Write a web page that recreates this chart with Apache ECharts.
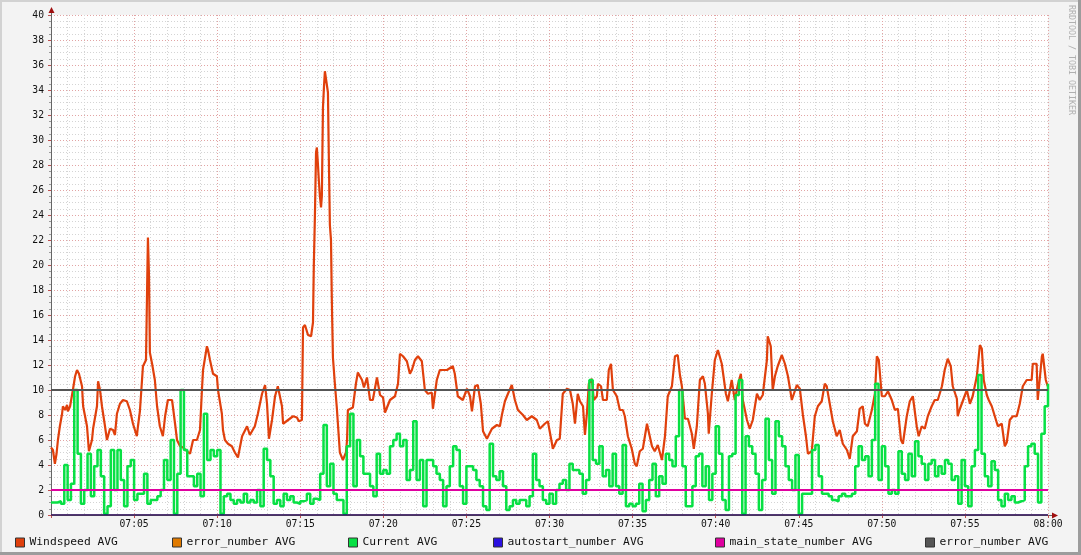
<!DOCTYPE html>
<html>
<head>
<meta charset="utf-8">
<script src="https://cdn.jsdelivr.net/npm/echarts@6/dist/echarts.min.js"></script>
<style>
html,body{margin:0;padding:0;background:#f3f3f3;}
#chart{width:1081px;height:555px;}
</style>
</head>
<body>
<div id="chart"></div>
<script>
// ---- data ----
// Windspeed AVG: seconds after 07:00:00, value
const windSec = [0,7,14,20,25,32,40,43,51,58,61,69,76,79,87,94,101,112,116,130,137,148,152,159,166,170,177,184,195,202,213,224,231,238,249,260,274,285,296,310,314,321,332,343,347,350,354,357,365,375,383,393,404,412,422,437,440,448,455,466,477,491,502,513,527,538,545,549,563,567,574,585,599,603,617,621,628,639,653,664,675,690,708,718,736,747,762,773,780,787,798,809,819,834,838,856,874,888,895,906,910,917,928,939,946,949,953,957,960,964,967,971,975,978,982,986,989,996,1000,1004,1007,1011,1014,1018,1025,1032,1043,1054,1065,1069,1072,1090,1101,1108,1123,1130,1141,1152,1162,1177,1188,1199,1206,1224,1242,1253,1260,1271,1285,1296,1303,1314,1325,1339,1350,1361,1375,1379,1393,1404,1430,1451,1458,1469,1487,1502,1513,1520,1531,1541,1552,1560,1574,1592,1610,1621,1628,1639,1650,1664,1675,1686,1704,1718,1736,1754,1765,1783,1794,1809,1812,1827,1837,1848,1863,1874,1884,1892,1902,1910,1921,1928,1935,1942,1953,1960,1971,1975,1986,1993,2007,2014,2022,2029,2043,2054,2065,2072,2083,2097,2108,2115,2126,2137,2152,2162,2170,2180,2191,2206,2217,2227,2242,2253,2263,2271,2278,2289,2300,2314,2321,2332,2343,2354,2361,2372,2375,2386,2397,2408,2422,2437,2444,2458,2469,2480,2491,2498,2513,2523,2534,2549,2559,2570,2585,2588,2599,2606,2614,2624,2639,2650,2661,2675,2682,2693,2704,2715,2726,2733,2747,2758,2769,2783,2794,2801,2812,2823,2837,2848,2859,2874,2884,2895,2910,2920,2931,2939,2949,2964,2975,2982,2989,3000,3011,3022,3036,3047,3058,3069,3076,3090,3101,3112,3126,3133,3144,3155,3166,3180,3191,3202,3217,3227,3238,3249,3256,3271,3274,3282,3292,3307,3318,3328,3343,3354,3361,3368,3379,3386,3397,3408,3419,3433,3444,3451,3462,3473,3487,3498,3509,3523,3541,3545,3559,3563,3578,3581,3592,3599];
const windVal = [5.4,5.2,4.1,4.9,6.0,7.1,8.1,8.7,8.4,8.8,8.3,8.7,8.8,10.0,11.1,11.6,11.3,10.3,8.7,7.1,5.1,6.0,6.9,6.9,8.7,10.7,10.0,8.7,7.1,6.0,6.9,6.8,6.4,8.1,8.9,9.2,9.1,8.4,7.3,6.3,7.1,8.3,11.9,12.4,18.0,22.2,19.0,13.0,12.1,10.8,8.7,7.1,6.3,7.9,9.2,9.2,8.7,7.3,6.0,5.5,5.4,5.1,4.9,6.0,6.0,6.8,10.0,11.6,13.5,13.2,12.4,11.3,11.1,10.0,8.1,6.8,6.0,5.7,5.5,5.0,4.6,6.3,7.1,6.4,7.1,8.1,9.7,10.4,8.9,6.1,7.6,9.5,10.3,8.7,7.3,7.6,7.9,7.8,7.5,7.6,15.0,15.2,14.4,14.3,15.4,20.0,24.0,29.0,29.4,28.0,26.8,25.5,24.6,25.5,32.6,34.4,35.5,35.4,33.8,27.4,23.2,22.0,17.2,12.6,10.5,8.6,5.0,4.4,5.0,6.0,8.4,8.6,10.5,11.4,10.8,10.2,11.0,9.2,9.2,11.0,9.6,9.4,8.2,9.2,9.5,10.5,12.9,12.7,12.3,11.3,11.6,12.4,12.7,12.3,10.0,9.7,9.8,8.5,10.8,11.6,11.6,11.9,11.3,9.5,9.2,10.1,9.5,8.3,10.3,10.4,8.9,6.7,6.1,6.9,7.2,7.1,8.0,9.1,9.7,10.4,9.2,8.4,8.0,7.6,7.9,7.6,6.9,7.3,7.5,5.7,5.3,6.0,6.1,9.7,10.1,10.0,8.9,7.3,9.7,9.1,8.7,6.4,8.1,10.5,10.9,9.2,9.5,10.5,10.3,9.2,9.2,11.6,12.1,10.0,9.5,8.4,8.4,7.9,6.3,5.3,4.1,3.9,5.1,5.3,7.3,6.3,5.5,5.1,5.6,4.4,6.3,9.5,10.3,12.7,12.8,11.2,10.3,7.7,7.7,6.5,5.3,7.1,10.8,11.1,10.5,8.1,6.5,9.7,12.4,13.2,12.1,9.7,9.1,10.8,9.2,10.4,11.3,9.2,7.6,6.9,7.6,9.7,9.2,9.6,12.4,14.3,13.5,10.0,11.1,11.9,12.8,12.1,11.1,9.2,9.1,10.4,10.1,8.0,6.3,4.9,5.1,7.9,8.7,9.1,10.5,10.3,8.9,7.5,6.3,6.8,5.7,5.2,4.5,6.3,6.7,8.5,8.7,7.3,7.1,8.4,9.7,12.7,12.4,9.5,9.5,9.9,9.2,8.4,8.5,6.0,5.7,7.9,9.1,9.5,7.1,6.3,7.1,6.9,7.9,8.7,9.2,9.2,10.3,11.6,12.5,11.9,10.3,9.3,7.9,8.5,9.1,10.0,8.9,9.5,11.1,13.6,13.3,10.8,9.6,9.2,8.7,7.9,7.1,7.3,5.5,5.8,7.6,7.9,7.9,8.9,10.3,10.8,10.8,12.1,12.1,9.2,12.7,12.9,10.8,10.3];
// Current AVG: one value every currentStepSec seconds from 07:00:00
const currentStepSec = 12;
const currentVal = [1.0,1.0,1.1,0.9,4.0,1.2,2.5,10.0,4.9,0.9,2.0,4.9,1.5,3.9,5.2,3.1,0.1,0.7,5.2,2.0,5.2,2.8,0.7,3.9,4.4,1.2,1.7,1.7,3.3,0.9,1.2,1.2,1.5,2.0,4.4,2.8,6.0,0.1,3.3,10.0,5.2,3.1,3.1,2.3,3.3,1.5,8.1,4.4,5.2,4.7,5.2,0.1,1.5,1.7,1.2,0.9,1.2,1.0,1.7,1.0,1.2,1.0,2.0,0.7,5.3,4.4,3.1,0.9,1.2,0.7,1.7,1.2,1.5,1.0,0.9,1.1,1.2,1.7,0.9,1.3,1.2,3.3,7.2,2.3,4.1,1.7,1.2,1.2,0.1,5.5,8.1,2.3,6.0,4.7,3.3,3.3,2.3,1.5,4.9,3.3,3.6,3.3,5.5,6.0,6.5,5.5,6.0,2.8,3.6,7.5,2.8,4.4,0.7,4.4,4.4,3.9,3.3,2.8,0.7,2.3,3.9,5.5,5.2,2.3,0.9,3.9,3.9,3.6,2.8,2.3,0.7,0.4,5.7,3.1,2.8,3.5,2.3,0.4,0.7,1.2,0.9,1.2,1.2,0.7,1.5,4.9,2.8,2.3,1.2,0.9,1.7,0.9,2.0,2.5,2.8,2.0,4.1,3.6,3.6,3.3,1.7,2.8,10.8,4.4,4.1,5.5,3.1,3.6,2.3,4.9,2.3,1.7,5.6,0.7,0.9,0.7,0.9,2.5,0.3,1.2,2.8,4.1,1.5,3.1,2.5,4.9,4.4,3.9,6.3,10.0,3.9,0.7,0.7,2.3,4.7,4.9,2.3,3.9,1.2,3.3,7.1,4.9,1.2,0.4,4.7,4.9,9.6,10.8,0.1,6.3,5.5,4.9,3.3,0.4,2.8,7.7,4.4,1.7,7.5,6.3,5.5,3.9,2.8,2.0,4.8,0.1,1.7,1.7,1.7,5.2,5.6,3.1,1.7,1.7,1.5,1.2,1.1,1.5,1.7,1.5,1.5,1.7,3.9,5.5,4.4,4.7,3.1,6.0,10.5,2.8,5.5,3.9,1.7,2.0,1.7,5.1,3.3,2.8,4.9,3.1,5.9,4.7,4.1,2.8,4.1,4.4,3.1,3.9,3.3,4.4,4.1,2.8,3.1,0.9,4.4,2.3,0.7,3.9,5.2,11.2,4.9,3.1,2.3,4.3,3.6,1.2,0.7,1.7,1.2,1.5,1.0,1.1,1.2,3.9,5.5,5.7,4.9,1.0,6.5,8.7,10.5];
// constant series
const errorNumberVal = 0;
const autostartVal = 0;
const mainStateVal = 2;
const errorNumber2Val = 10;
const seriesNames = ['Windspeed AVG','error_number AVG','Current AVG','autostart_number AVG','main_state_number AVG','error_number AVG '];
const xTickLabels = ['07:00','07:05','07:10','07:15','07:20','07:25','07:30','07:35','07:40','07:45','07:50','07:55','08:00'];
const yMin = 0, yMax = 40, yStep = 2;
const xMinSec = 0, xMaxSec = 3600, xStepSec = 300;

// ---- build ----
const colors = ['#E0400C','#E07A00','#08E044','#2A10E0','#E000A0','#555555'];
const windData = windSec.map((s,i)=>[s, windVal[i]]);
const currentData = currentVal.map((v,i)=>[i*currentStepSec, v]);
const flat = v => [[xMinSec, v],[xMaxSec, v]];

const chart = echarts.init(document.getElementById('chart'), null, {renderer:'canvas'});
const mono = 'DejaVu Sans Mono';
const legendLefts = [15, 172, 348, 493, 715, 925];
const legends = seriesNames.map((n,i)=>({
  data:[n], left: legendLefts[i], top: 537, orient:'horizontal', padding:0,
  icon:'rect', itemWidth:9, itemHeight:9, itemGap:0, selectedMode:false,
  itemStyle:{borderColor:'#333', borderWidth:1},
  textStyle:{fontFamily:mono, fontSize:11.3, color:'#111'},
  formatter: name => name.trim()
}));

const option = {
  backgroundColor:'#f3f3f3',
  animation:false,
  color: colors,
  legend: legends,
  grid:{left:51, top:15, width:997, height:500, containLabel:false, show:true, backgroundColor:'#ffffff', borderWidth:0},
  xAxis:{
    type:'value', min:xMinSec, max:xMaxSec, interval:xStepSec,
    axisLine:{show:true, onZero:false, lineStyle:{color:'#666', width:1}},
    axisTick:{show:true, length:3, lineStyle:{color:'#c05050'}},
    minorTick:{show:false, splitNumber:5},
    axisLabel:{fontFamily:mono, fontSize:9.7, color:'#111', margin:4,
      formatter: v => v===xMinSec ? '' : xTickLabels[Math.round(v/xStepSec)]},
    splitLine:{show:true, lineStyle:{color:'#e2a4a4', width:1, type:[1,2]}},
    minorSplitLine:{show:true, lineStyle:{color:'#d4d4d4', width:1, type:[1,2]}}
  },
  yAxis:{
    type:'value', min:yMin, max:yMax, interval:yStep,
    axisLine:{show:true, lineStyle:{color:'#666', width:1}},
    axisTick:{show:true, length:3, lineStyle:{color:'#c05050'}},
    minorTick:{show:true, splitNumber:4, length:2, lineStyle:{color:'#999'}},
    axisLabel:{fontFamily:mono, fontSize:9.7, color:'#111', margin:7},
    splitLine:{show:true, lineStyle:{color:'#e2a4a4', width:1, type:[1,2]}},
    minorSplitLine:{show:true, lineStyle:{color:'#d4d4d4', width:1, type:[1,2]}}
  },
  series:[
    {name:seriesNames[0], type:'line', data:windData, showSymbol:false, symbol:'none',
     lineStyle:{width:2.2, color:colors[0]}, itemStyle:{color:colors[0]}, z:2},
    {name:seriesNames[1], type:'line', data:flat(errorNumberVal), symbol:'none',
     lineStyle:{width:1, color:colors[1]}, itemStyle:{color:colors[1]}, z:2},
    {name:seriesNames[2], type:'line', data:currentData, step:'end', symbol:'none',
     lineStyle:{width:2.5, color:colors[2]}, itemStyle:{color:colors[2]}, z:3},
    {name:seriesNames[3], type:'line', data:flat(autostartVal), symbol:'none',
     lineStyle:{width:1.5, color:'#1c0a70'}, itemStyle:{color:colors[3]}, z:4},
    {name:seriesNames[4], type:'line', data:flat(mainStateVal), symbol:'none',
     lineStyle:{width:2, color:colors[4]}, itemStyle:{color:colors[4]}, z:4},
    {name:seriesNames[5], type:'line', data:flat(errorNumber2Val), symbol:'none',
     lineStyle:{width:2, color:colors[5]}, itemStyle:{color:colors[5]}, z:5}
  ],
  graphic:[
    {type:'rect', shape:{x:0,y:0,width:1081,height:2}, style:{fill:'#d2d2d2'}, silent:true},
    {type:'rect', shape:{x:0,y:0,width:2,height:555}, style:{fill:'#d2d2d2'}, silent:true},
    {type:'rect', shape:{x:0,y:552,width:1081,height:3}, style:{fill:'#9c9c9c'}, silent:true},
    {type:'rect', shape:{x:1078,y:0,width:3,height:555}, style:{fill:'#9c9c9c'}, silent:true},
    {type:'line', shape:{x1:51.5,y1:15,x2:51.5,y2:10}, style:{stroke:'#666', lineWidth:1}, silent:true},
    {type:'polygon', shape:{points:[[51.5,7],[48.5,13],[54.5,13]]}, style:{fill:'#a01010'}, silent:true},
    {type:'line', shape:{x1:1048,y1:515.5,x2:1053,y2:515.5}, style:{stroke:'#666', lineWidth:1}, silent:true},
    {type:'polygon', shape:{points:[[1058,515.5],[1052,512.5],[1052,518.5]]}, style:{fill:'#a01010'}, silent:true},
    {type:'text', left:1067, top:5, rotation:-Math.PI/2,
     style:{text:'RRDTOOL / TOBI OETIKER', fontFamily:mono, fontSize:8.3, fill:'#b0b0b0'}, silent:true}
  ]
};
chart.setOption(option);
</script>
</body>
</html>
